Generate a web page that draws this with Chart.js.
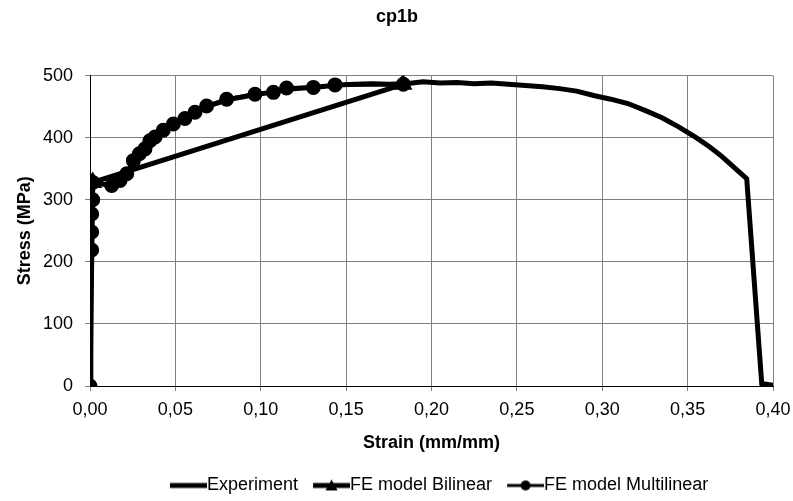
<!DOCTYPE html>
<html><head><meta charset="utf-8">
<script src="https://cdn.jsdelivr.net/npm/chart.js@4"></script>
<style>html,body{margin:0;padding:0;background:#fff}#wrap{width:793px;height:501px}</style>
</head><body><div id="wrap"><canvas id="c" width="793" height="501"></canvas></div>
<script>
const chartTitle = 'cp1b';
const xTitle = 'Strain (mm/mm)';
const yTitle = 'Stress (MPa)';
const seriesNames = ['Experiment', 'FE model Bilinear', 'FE model Multilinear'];

const expStrain = [0,0.0005,0.001,0.0015,0.003,0.006,0.01,0.014,0.018,0.022,0.026,0.03,0.034,0.038,0.043,0.048,0.055,0.062,0.068,0.075,0.08,0.09,0.097,0.107,0.115,0.125,0.135,0.145,0.155,0.165,0.175,0.185,0.195,0.205,0.215,0.225,0.235,0.245,0.255,0.265,0.275,0.285,0.295,0.305,0.315,0.325,0.335,0.345,0.355,0.363,0.37,0.378,0.3846,0.3934,0.40];
const expStress = [0,150,300,330,328,326,324,325,332,342,358,375,388,400,411,421,431,441,450,456,461,466,470,473,478,480,482,485,486,487,486,487,490,488,489,487,488,486,484,482,479,475,468,462,455,444,432,417,400,385,370,350,334,4,1];

const biStrain = [0,0.0016,0.1833];
const biStress = [0,328,486];

const mlStrain = [0,0.001,0.001,0.001,0.0016,0.0016,0.0127,0.0176,0.0215,0.0254,0.0289,0.0322,0.0351,0.0381,0.0429,0.0488,0.0556,0.0615,0.0683,0.08,0.0966,0.1074,0.1151,0.1308,0.1435,0.1835];
const mlStress = [0,219,248,277,300,328,323,331,342,363,374,382,395,401,412,422,431,441,451,462,470,473,480,481,485,486];

const xTicks = [0,0.05,0.10,0.15,0.20,0.25,0.30,0.35,0.40];
const yTicks = [0,100,200,300,400,500];

function pts(xs, ys){ return xs.map((x,i)=>({x:x, y:ys[i]})); }

const LEG_FONT = 18, LEG_BOX = 28;
function legendImg(kind){
  const cv = document.createElement('canvas');
  const w = LEG_BOX + LEG_FONT;
  cv.width = w; cv.height = 14;
  const g = cv.getContext('2d');
  g.strokeStyle = '#000'; g.fillStyle = '#000';
  g.lineWidth = kind === 'ml' ? 3 : 5;
  const x0 = LEG_FONT/2, x1 = w, xm = (x0 + x1)/2;
  g.beginPath(); g.moveTo(x0,7); g.lineTo(x1,7); g.stroke();
  if (kind === 'bi') { g.beginPath(); g.moveTo(xm,1); g.lineTo(xm+6,12); g.lineTo(xm-6,12); g.closePath(); g.fill(); }
  if (kind === 'ml') { g.beginPath(); g.arc(xm,7,5,0,Math.PI*2); g.fill(); }
  return cv;
}

const FONT = "'Liberation Sans', Arial, sans-serif";
Chart.defaults.font.family = FONT;
Chart.defaults.color = '#000';

const shiftPlugin = {
  id: 'shiftBoxes',
  afterLayout(chart) {
    const lg = chart.legend;
    if (lg) { const dx = 170 - (lg.left + lg.options.labels.padding); lg.left += dx; lg.right += dx; lg.top += 7.5; lg.bottom += 7.5; }
    const t = chart.titleBlock;
    if (t) { t.left += 10.5; t.right += 10.5; }
  }
};

new Chart(document.getElementById('c'), {
  type: 'scatter',
  plugins: [shiftPlugin],
  data: {
    datasets: [
      { label: seriesNames[0], data: pts(expStrain, expStress), showLine: true, borderColor:'#000', backgroundColor:'#000', borderWidth: 5, pointRadius: 0, order: 3 },
      { label: seriesNames[1], data: pts(biStrain, biStress), showLine: true, borderColor:'#000', backgroundColor:'#000', borderWidth: 5, pointRadius: 6, pointStyle: 'triangle', order: 2 },
      { label: seriesNames[2], data: pts(mlStrain, mlStress), showLine: true, borderColor:'#000', backgroundColor:'#000', borderWidth: 4, pointRadius: 5.5, pointStyle: 'circle', order: 1 }
    ]
  },
  options: {
    responsive: false, animation: false,
    layout: { padding: { left: 0, right: 20, top: 0, bottom: 4 } },
    plugins: {
      title: { display: true, text: chartTitle, font: { size: 18, weight: 'bold', family: FONT }, color: '#000', padding: { top: 6, bottom: 48 } },
      tooltip: { enabled: false },
      legend: {
        position: 'bottom', align: 'start',
        labels: {
          usePointStyle: true, pointStyleWidth: LEG_BOX,
          font: { size: LEG_FONT, family: FONT },
          color: '#000',
          padding: 15,
          generateLabels: (chart) => chart.data.datasets.map((d,i)=>({
            text: d.label, pointStyle: legendImg(['exp','bi','ml'][i]), fillStyle:'#000', strokeStyle:'#000', lineWidth:0, hidden:false, datasetIndex:i
          }))
        }
      }
    },
    scales: {
      x: {
        type: 'linear', min: 0, max: 0.40,
        afterBuildTicks: s => { s.ticks = xTicks.map(v=>({value:v})); },
        ticks: { font: { size: 18, family: FONT }, color:'#000', padding: 8, maxRotation: 0, callback: v => v.toFixed(2).replace('.', ',') },
        grid: { color: '#808080', lineWidth: 1, tickLength: 5, tickColor: '#808080' },
        border: { color: '#000', width: 1 },
        title: { display: true, text: xTitle, font: { size: 18, weight: 'bold', family: FONT }, color:'#000', padding: { top: 4, bottom: 0 } },
        afterFit: s => { s.height = 68; s.paddingRight = 0; s.paddingLeft = 0; }
      },
      y: {
        type: 'linear', min: 0, max: 500,
        afterBuildTicks: s => { s.ticks = yTicks.map(v=>({value:v})); },
        ticks: { font: { size: 18, family: FONT }, color:'#000', padding: 12 },
        grid: { color: '#808080', lineWidth: 1, tickLength: 5, tickColor: '#808080' },
        border: { color: '#000', width: 1 },
        title: { display: true, text: yTitle, font: { size: 18, weight: 'bold', family: FONT }, color:'#000', padding: { top: 14, bottom: 0 } },
        afterFit: s => { s.width = 90; }
      }
    }
  }
});
</script>
</body></html>
